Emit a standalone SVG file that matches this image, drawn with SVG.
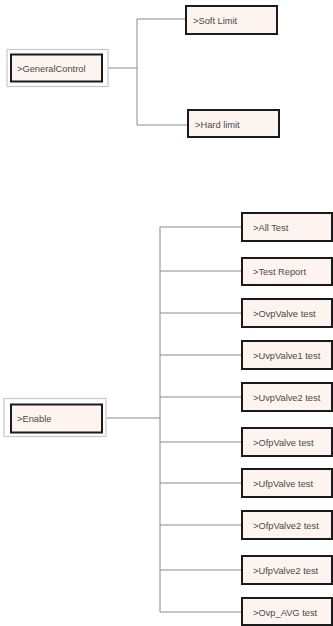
<svg xmlns="http://www.w3.org/2000/svg" width="333" height="626" viewBox="0 0 333 626">
<style>
.outer{fill:#ffffff;stroke:#c8c8c8;stroke-width:1.2}
.box{fill:#fdf3ef;stroke:#1a1a1a;stroke-width:2}
.t{font-family:"Liberation Sans",Arial,sans-serif;font-size:9.3px;fill:#4a4a4a}
.c{fill:none;stroke:#8a8a8a;stroke-width:1}
</style>
<rect width="333" height="626" fill="#ffffff"/>
<g id="connectors">
<path class="c" d="M102 68H137M137 19V125M137 19H186M137 125H188"/>
<path class="c" d="M102 418H160M160 227V612M160 227H242M160 271H242M160 313H242M160 355H242M160 397H242M160 442H242M160 483H242M160 525H242M160 570H242M160 612H242"/>
</g>
<g id="general-control">
<rect class="outer" x="7" y="49.5" width="101" height="37"/>
<rect class="box" x="11" y="54.5" width="91" height="27"/>
<text class="t" x="17" y="71.5">&gt;GeneralControl</text>
</g>
<g id="soft-limit">
<rect class="box" x="186" y="6" width="91" height="28"/>
<text class="t" x="193" y="23.5">&gt;Soft Limit</text>
</g>
<g id="hard-limit">
<rect class="box" x="188" y="110" width="91" height="27"/>
<text class="t" x="195" y="127.5">&gt;Hard limit</text>
</g>
<g id="enable">
<rect class="outer" x="4" y="398.5" width="102" height="38"/>
<rect class="box" x="11" y="404.5" width="91" height="28"/>
<text class="t" x="17" y="422">&gt;Enable</text>
</g>
<g id="all-test"><rect class="box" x="242" y="213" width="90" height="28"/><text class="t" x="253" y="230.5">&gt;All Test</text></g>
<g id="test-report"><rect class="box" x="242" y="258" width="90" height="27"/><text class="t" x="253" y="274.5">&gt;Test Report</text></g>
<g id="ovpvalve-test"><rect class="box" x="242" y="299" width="90" height="28"/><text class="t" x="253" y="316.5">&gt;OvpValve test</text></g>
<g id="uvpvalve1-test"><rect class="box" x="242" y="341" width="90" height="28"/><text class="t" x="253" y="358.5">&gt;UvpValve1 test</text></g>
<g id="uvpvalve2-test"><rect class="box" x="242" y="383" width="90" height="28"/><text class="t" x="253" y="400.5">&gt;UvpValve2 test</text></g>
<g id="ofpvalve-test"><rect class="box" x="242" y="428" width="90" height="28"/><text class="t" x="253" y="445.5">&gt;OfpValve test</text></g>
<g id="ufpvalve-test"><rect class="box" x="242" y="469" width="90" height="28"/><text class="t" x="253" y="486.5">&gt;UfpValve test</text></g>
<g id="ofpvalve2-test"><rect class="box" x="242" y="511" width="90" height="28"/><text class="t" x="253" y="528.5">&gt;OfpValve2 test</text></g>
<g id="ufpvalve2-test"><rect class="box" x="242" y="556" width="90" height="28"/><text class="t" x="253" y="573.5">&gt;UfpValve2 test</text></g>
<g id="ovp-avg-test"><rect class="box" x="242" y="598" width="90" height="27"/><text class="t" x="253" y="615.5">&gt;Ovp_AVG test</text></g>
</svg>
